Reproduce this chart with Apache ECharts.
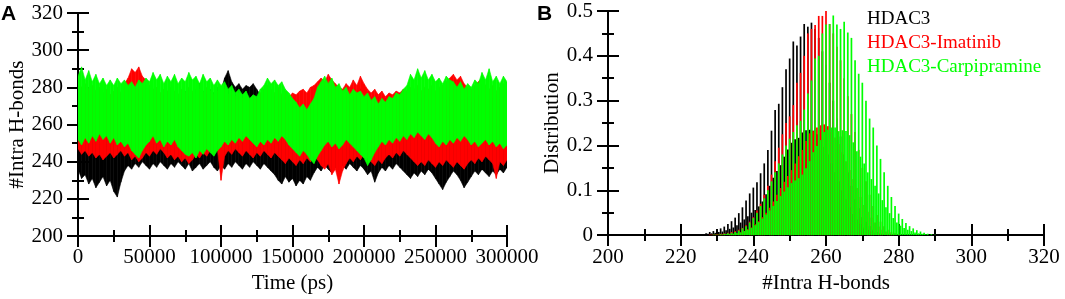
<!DOCTYPE html>
<html>
<head>
<meta charset="utf-8">
<title>Intra H-bonds</title>
<script src="https://cdn.jsdelivr.net/npm/echarts@6/dist/echarts.min.js"></script>
<style>
  html, body { margin: 0; padding: 0; background: #fff; }
  #main { width: 1065px; height: 299px; }
</style>
</head>
<body>
<div id="main"></div>
<script>
// ---- panel A: envelope of #Intra H-bonds vs time, sampled every 2500 ps ----
var timeStepPs = 2500;

var greenHigh = [286,291,284,289,283,287,282,285,281,284,
  281,285,282,284,281,283,280,284,282,285,
  283,288,284,287,282,286,283,287,282,285,
  283,288,284,286,282,287,283,285,281,284,
  281,283,279,281,277,279,276,278,274,276,
  275,279,281,285,282,284,281,283,279,277,
  274,272,269,271,268,271,274,280,283,286,
  282,285,280,282,278,280,276,279,277,278,
  275,277,273,275,271,274,272,275,274,277,
  276,279,281,287,284,290,285,289,284,287,
  283,285,282,286,284,283,280,283,279,282,
  280,284,282,288,284,290,283,286,282,286,
  283];
var greenLow = [252,249,253,250,254,251,255,252,254,250,
  253,249,251,248,250,246,244,242,246,249,
  251,254,250,252,248,251,249,252,248,246,
  244,243,245,242,246,244,247,245,243,246,
  248,251,249,252,250,253,251,254,252,250,
  248,251,249,252,250,253,251,254,252,249,
  247,245,243,246,244,241,239,243,246,249,
  251,248,250,247,249,252,250,248,246,244,
  242,238,241,245,248,251,249,252,250,253,
  251,254,252,255,253,256,254,252,255,253,
  250,248,251,249,252,250,253,251,254,252,
  249,251,248,250,252,249,251,248,250,247,
  249];
var redHigh = [283,280,282,279,281,278,280,277,279,276,
  278,280,277,282,285,290,288,291,286,284,
  281,279,280,277,279,278,280,278,276,279,
  277,280,278,276,279,277,280,278,276,278,
  277,279,276,278,275,277,274,276,273,275,
  274,277,279,281,279,277,280,276,278,275,
  277,276,278,279,277,280,281,283,285,283,
  287,284,282,280,279,282,280,284,281,286,
  282,279,277,279,276,278,275,277,276,278,
  277,279,278,280,279,281,278,280,279,281,
  278,280,281,283,285,287,284,286,282,280,
  279,281,283,285,281,279,281,278,280,282,
  279];
var redLow = [247,244,246,243,245,242,244,241,243,245,
  242,244,246,243,245,241,243,240,242,245,
  243,246,244,247,245,242,244,241,243,240,
  242,239,241,244,242,245,243,246,244,247,
  230,243,246,244,247,245,243,246,244,242,
  245,243,246,244,242,245,243,241,239,242,
  240,238,241,239,242,240,243,241,238,236,
  239,233,236,228,235,239,242,240,243,241,
  244,242,240,238,241,239,242,244,242,245,
  243,246,244,242,240,238,240,238,241,239,
  237,240,238,241,239,237,240,238,236,239,
  241,239,242,240,243,241,239,231,240,238,
  241];
var blackHigh = [278,275,277,274,276,273,275,272,274,271,
  273,275,272,274,276,273,275,277,274,276,
  273,275,277,274,276,278,275,277,274,276,
  278,275,277,279,282,278,276,279,277,280,
  278,285,289,283,280,282,279,281,280,282,
  279,276,274,276,273,275,272,274,271,273,
  270,272,269,271,268,270,272,274,271,273,
  270,272,274,271,273,275,272,274,276,279,
  281,277,275,273,275,272,274,276,273,275,
  277,274,276,273,275,277,274,276,273,275,
  277,274,276,273,275,272,274,276,273,275,
  272,274,276,273,275,277,274,276,273,275,
  272];
var blackLow = [236,231,233,228,231,226,229,232,227,230,
  224,221,229,235,238,236,239,237,240,238,
  236,239,237,240,238,236,239,237,240,238,
  236,239,235,237,239,236,238,240,237,235,
  238,236,239,237,240,238,236,239,237,240,
  238,236,239,237,235,233,230,228,232,229,
  231,227,230,228,232,230,234,237,235,238,
  236,234,237,235,238,236,239,237,235,238,
  236,233,235,229,234,237,235,238,236,239,
  237,235,233,231,234,232,235,233,236,234,
  231,228,225,229,232,235,233,230,226,229,
  232,235,233,236,234,232,235,233,236,234,
  237];

// ---- panel B: distribution, tall bars on integers, short bars on half values ----
var blackTall = [0.002,0.004,0.007,0.009,0.012,0.015,0.019,0.025,0.031,0.039,
  0.049,0.062,0.077,0.093,0.106,0.118,0.138,0.16,0.19,0.233,
  0.279,0.293,0.33,0.37,0.394,0.432,0.423,0.443,0.471,0.465,
  0.474,0.46,0.44,0.41,0.38,0.34,0.30,0.26,0.22,0.18,
  0.14,0.11,0.08,0.06,0.04,0.03,0.02,0.012,0.007,0.004,
  0,0,0,0,0,0,0,0,0,0,0,0,0,0,0];
var redTall = [0,0,0.001,0.001,0.002,0.003,0.004,0.005,0.007,0.009,
  0.012,0.016,0.022,0.03,0.04,0.055,0.07,0.09,0.11,0.135,
  0.165,0.195,0.225,0.25,0.265,0.29,0.34,0.362,0.40,0.45,
  0.46,0.469,0.489,0.489,0.5,0.471,0.45,0.42,0.39,0.35,
  0.31,0.27,0.23,0.19,0.15,0.12,0.09,0.065,0.045,0.03,
  0.02,0.012,0.007,0.004,0.002,0,0,0,0,0,0,0,0,0,0];
var greenTall = [0,0,0,0.001,0.001,0.002,0.003,0.004,0.005,0.007,
  0.01,0.015,0.02,0.028,0.038,0.05,0.065,0.082,0.1,0.12,
  0.14,0.16,0.18,0.2,0.215,0.23,0.245,0.255,0.28,0.316,
  0.345,0.394,0.40,0.45,0.47,0.471,0.49,0.47,0.46,0.476,
  0.452,0.44,0.39,0.36,0.34,0.30,0.26,0.24,0.20,0.17,
  0.14,0.11,0.085,0.065,0.048,0.036,0.027,0.02,0.015,0.011,
  0.008,0.005,0.003,0.002,0.001];
var blackShort = [0.001,0.003,0.004,0.005,0.007,0.008,0.011,0.014,0.017,0.022,
  0.028,0.035,0.042,0.05,0.056,0.064,0.075,0.091,0.11,0.128,
  0.143,0.156,0.175,0.191,0.206,0.214,0.217,0.229,0.234,0.235,
  0.233,0.225,0.212,0.197,0.18,0.16,0.14,0.12,0.1,0.08,
  0.062,0.047,0.035,0.025,0.017,0.012,0.008,0.005,0.003,
  0,0,0,0,0,0,0,0,0,0,0,0,0,0,0];
var redShort = [0,0,0.001,0.001,0.001,0.002,0.002,0.003,0.003,
  0.004,0.006,0.009,0.013,0.017,0.024,0.031,0.04,0.05,0.061,
  0.075,0.09,0.105,0.119,0.132,0.145,0.16,0.176,0.19,0.21,
  0.227,0.232,0.24,0.245,0.247,0.243,0.23,0.218,0.203,0.185,
  0.165,0.145,0.125,0.105,0.085,0.067,0.052,0.039,0.028,0.019,
  0.012,0.008,0.005,0.003,
  0,0,0,0,0,0,0,0,0,0,0];
var greenShort = [0,0,0,0.001,0.001,0.001,0.002,0.002,0.003,
  0.004,0.006,0.009,0.012,0.016,0.022,0.029,0.037,0.046,0.055,
  0.065,0.076,0.087,0.097,0.107,0.116,0.122,0.127,0.135,0.149,
  0.165,0.185,0.199,0.212,0.23,0.235,0.24,0.24,0.232,0.234,
  0.232,0.223,0.207,0.187,0.175,0.16,0.14,0.125,0.11,0.093,
  0.078,0.062,0.049,0.038,0.028,0.021,0.016,0.012,0.009,0.006,
  0.004,0.003,0.002,
  0,0];

var names = ['HDAC3', 'HDAC3-Imatinib', 'HDAC3-Carpipramine'];
var colors = ['#000000', '#ff0000', '#00ff00'];

var timePs = greenHigh.map(function (v, i) { return i * timeStepPs; });
var hbBins = blackTall.map(function (v, i) { return 226 + i; });
var hbHalfBins = blackShort.map(function (v, i) { return 226.5 + i; });

var serif = 'Liberation Serif';

(function () {
    var myChart = echarts.init(document.getElementById('main'), null, { renderer: 'canvas' });

    function axisSet(dim, grid, min, max, major, minor, name, nameGap, margin) {
        var pos = dim === 'x' ? 'bottom' : 'left';
        var tickStyle = { color: '#000', width: 2 };
        var main = {
            gridIndex: grid, type: 'value', position: pos, min: min, max: max, interval: major,
            name: name, nameLocation: 'middle', nameGap: nameGap,
            nameTextStyle: { fontFamily: serif, fontSize: 21, color: '#000', lineHeight: 21 },
            axisLine: { show: true, onZero: false, lineStyle: { color: '#000', width: 2 } },
            axisTick: { show: true, length: 11, lineStyle: tickStyle },
            minorTick: { show: true, splitNumber: 2, length: 6, lineStyle: tickStyle },
            axisLabel: { fontFamily: serif, fontSize: 21, color: '#000', margin: margin,
                formatter: function (v) { return String(v); } },
            splitLine: { show: false }
        };
        var inMajor = {
            gridIndex: grid, type: 'value', position: pos, min: min, max: max, interval: major,
            axisLine: { show: false, onZero: false },
            axisTick: { show: true, inside: true, length: 11, lineStyle: tickStyle },
            axisLabel: { show: false }, splitLine: { show: false }
        };
        var inMinor = {
            gridIndex: grid, type: 'value', position: pos, min: min, max: max, interval: minor,
            axisLine: { show: false, onZero: false },
            axisTick: { show: true, inside: true, length: 6, lineStyle: tickStyle },
            axisLabel: { show: false }, splitLine: { show: false }
        };
        return [main, inMajor, inMinor];
    }

    function bandSeries(k, lo, hi) {
        var data = [];
        for (var i = 0; i < timePs.length - 1; i++) {
            data.push([timePs[i], lo[i], hi[i], timePs[i + 1], lo[i + 1], hi[i + 1]]);
        }
        return {
            name: names[k], type: 'custom', xAxisIndex: 0, yAxisIndex: 0,
            silent: true, clip: true, itemStyle: { color: colors[k] },
            encode: { x: [0, 3], y: [1, 2, 4, 5] },
            renderItem: function (params, api) {
                var pts = [
                    api.coord([api.value(0), api.value(1)]),
                    api.coord([api.value(0), api.value(2)]),
                    api.coord([api.value(3), api.value(5)]),
                    api.coord([api.value(3), api.value(4)])
                ];
                return { type: 'polygon', shape: { points: pts },
                    style: { fill: colors[k], stroke: colors[k], lineWidth: 0.6 } };
            },
            data: data
        };
    }

    function barSeries(k, bins, vals) {
        return {
            name: names[k], type: 'bar', xAxisIndex: 3, yAxisIndex: 3,
            barWidth: 1.7, barGap: '-100%', silent: true,
            itemStyle: { color: colors[k] },
            data: bins.map(function (b, i) { return [b, vals[i]]; })
        };
    }

    var xA = axisSet('x', 0, 0, 300000, 50000, 25000, 'Time (ps)', 29, 11);
    var yA = axisSet('y', 0, 200, 320, 20, 10, '#Intra H-bonds', 49, 15);
    var xB = axisSet('x', 1, 200, 320, 20, 10, '#Intra H-bonds', 35, 12);
    var yB = axisSet('y', 1, 0, 0.5, 0.1, 0.05, 'Distribution', 43, 15);

    var option = {
        animation: false,
        backgroundColor: '#fff',
        grid: [
            { left: 78, top: 13, width: 429, height: 228 },
            { left: 608, top: 11, width: 436, height: 233 }
        ],
        xAxis: xA.concat(xB),
        yAxis: yA.concat(yB),
        legend: {
            orient: 'vertical', left: 862, top: 10, padding: 0, itemGap: 5,
            itemWidth: 0, itemHeight: 18, icon: 'rect', selectedMode: false,
            itemStyle: { opacity: 0 },
            textStyle: { fontFamily: serif, fontSize: 19, lineHeight: 18 },
            data: names.map(function (n, k) { return { name: n, textStyle: { color: colors[k] } }; })
        },
        graphic: [
            { type: 'text', left: 1, top: 4, style: { text: 'A', font: 'bold 21px "Liberation Sans"', fill: '#000' } },
            { type: 'text', left: 537, top: 4, style: { text: 'B', font: 'bold 21px "Liberation Sans"', fill: '#000' } }
        ],
        series: [
            bandSeries(0, blackLow, blackHigh),
            bandSeries(1, redLow, redHigh),
            bandSeries(2, greenLow, greenHigh),
            barSeries(0, hbBins, blackTall),
            barSeries(0, hbHalfBins, blackShort),
            barSeries(1, hbBins, redTall),
            barSeries(1, hbHalfBins, redShort),
            barSeries(2, hbBins, greenTall),
            barSeries(2, hbHalfBins, greenShort)
        ]
    };

    myChart.setOption(option);
}());
</script>
</body>
</html>
